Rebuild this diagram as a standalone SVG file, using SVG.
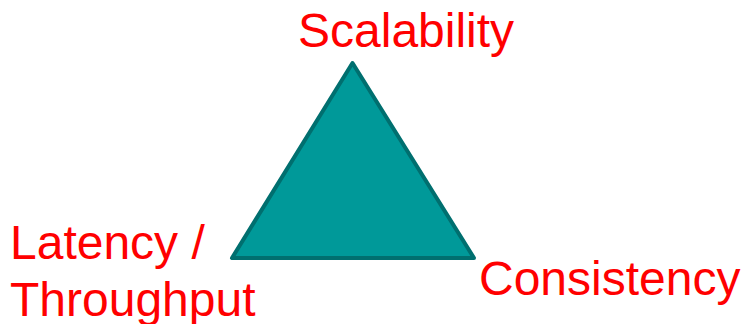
<svg xmlns="http://www.w3.org/2000/svg" width="741" height="324" viewBox="0 0 741 324">
<style>
.lbl{font-family:"Liberation Sans",Arial,sans-serif;font-size:48px;fill:#ff0000}
.tri{fill:#009999;stroke:#006f6f;stroke-width:4;stroke-linejoin:round}
</style>
<rect width="741" height="324" fill="#ffffff"/>
<g id="triangle">
<polygon class="tri" points="352.5,63 232,258 474,258"/>
</g>
<g id="connectors"></g>
<g id="scalability"><text class="lbl" x="298" y="47">Scalability</text></g>
<g id="latency"><text class="lbl" x="10" y="259">Latency /</text><text class="lbl" x="10" y="316">Throughput</text></g>
<g id="consistency"><text class="lbl" x="479" y="295">Consistency</text></g>
</svg>
